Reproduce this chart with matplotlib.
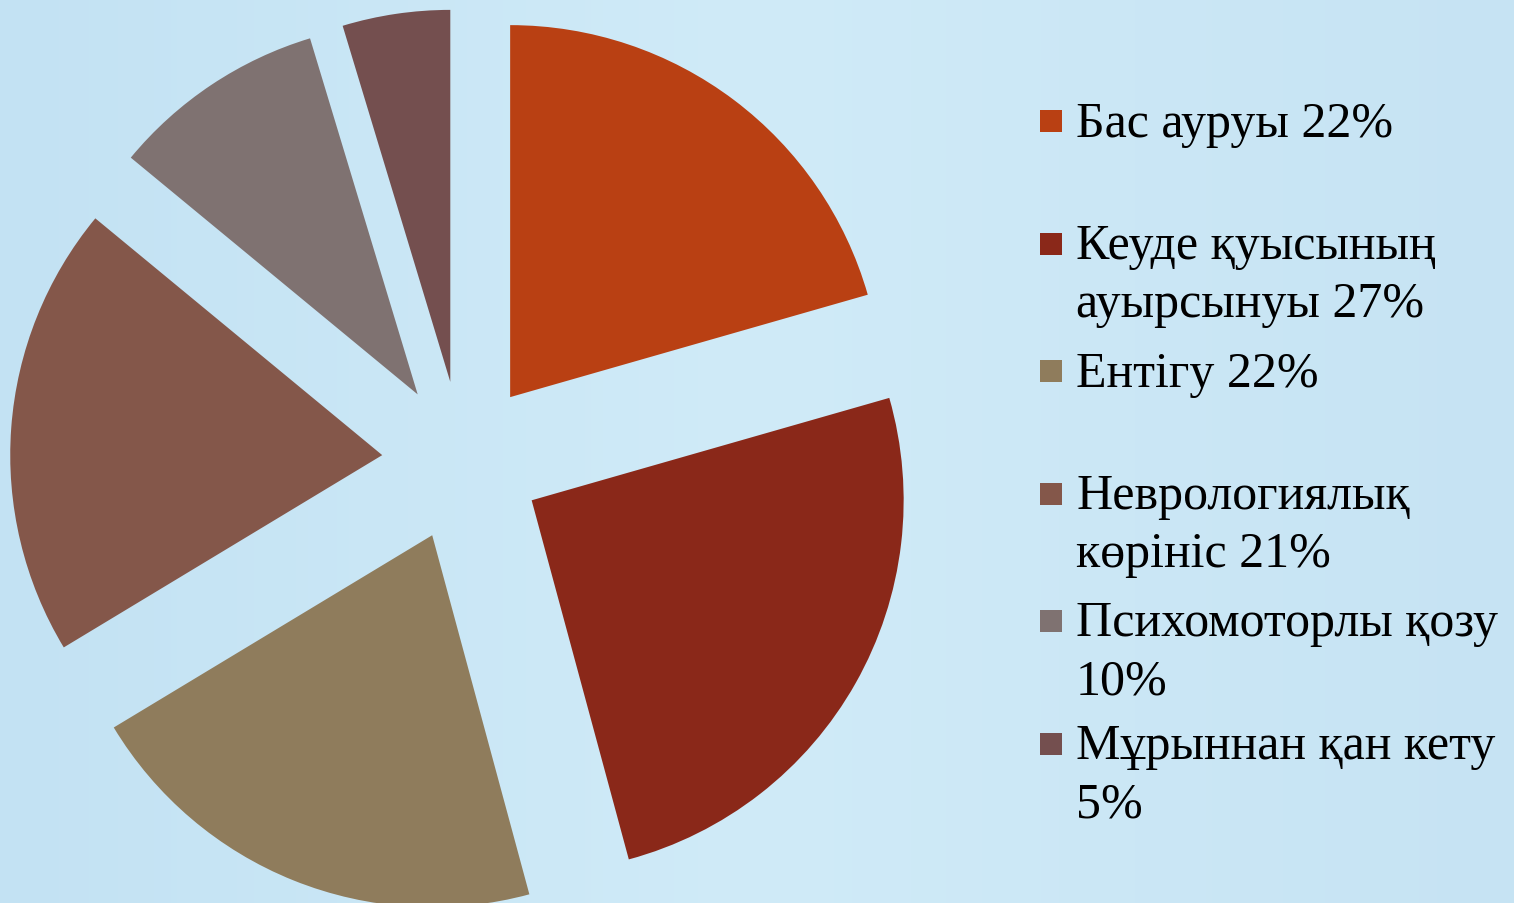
import matplotlib.pyplot as plt
import numpy as np
from matplotlib.patches import Rectangle
from matplotlib.colors import LinearSegmentedColormap

# data
values = [22, 27, 22, 21, 10, 5]
labels = ["Бас ауруы 22%",
          "Кеуде қуысының\nауырсынуы 27%",
          "Ентігу 22%",
          "Неврологиялық\nкөрініс 21%",
          "Психомоторлы қозу\n10%",
          "Мұрыннан қан кету\n5%"]
colors = ["#B94013", "#8A2819", "#8F7C5C", "#84574A", "#7F7271", "#744F4F"]

# legend row positions (pixels from top, marker centre)
legend_y = [122, 245, 372, 495, 622, 745]

W, H = 1514, 904
fig = plt.figure(figsize=(W / 100, H / 100), dpi=100)

# light blue background with soft gradient
bg = fig.add_axes([0, 0, 1, 1])
grad = np.linspace(0, 1, 256)
img = np.outer(np.ones(64), grad)
cmap = LinearSegmentedColormap.from_list("bg", ["#C3E2F3", "#D0EBF8", "#C6E3F3"])
bg.imshow(img, aspect="auto", cmap=cmap, extent=[0, 1, 0, 1])
bg.axis("off")

ax = fig.add_axes([0, 0, 1, 1])
ax.patch.set_alpha(0)
ax.pie(values, colors=colors, startangle=90, counterclock=False,
       explode=[0.215] * len(values), radius=1, center=(0, 0),
       wedgeprops=dict(linewidth=0))
ax.set_xlim(-462 / 372, (W - 462) / 372)
ax.set_ylim(-(H - 462) / 372, 462 / 372)
ax.set_aspect("equal")
ax.axis("off")

font = ["Liberation Serif", "DejaVu Serif"]
for lab, c, yy in zip(labels, colors, legend_y):
    fig.add_artist(Rectangle((1040 / W, 1 - (yy + 11) / H), 22 / W, 22 / H,
                             transform=fig.transFigure, color=c, lw=0))
    fig.text(1076 / W, 1 - (yy - 21) / H, lab, family=font, fontsize=36,
             va="top", ha="left", color="black", linespacing=1.32)

fig.savefig("out.png", dpi=100)
